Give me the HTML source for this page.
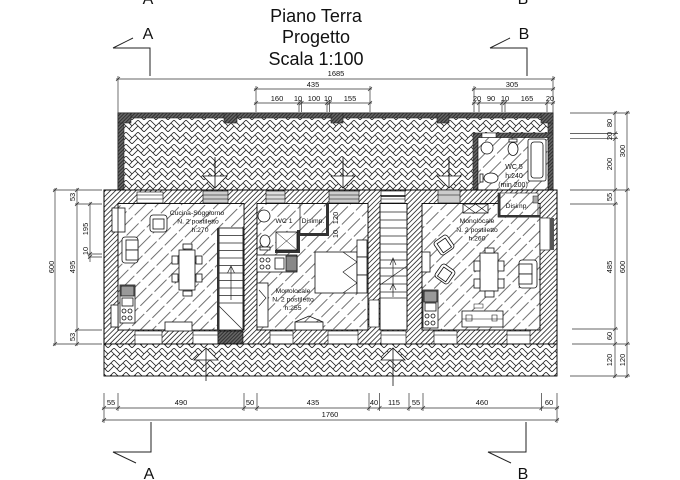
<!DOCTYPE html>
<html><head><meta charset="utf-8"><style>html,body{margin:0;padding:0;background:#fff}svg{display:block}text{font-family:"Liberation Sans",sans-serif;fill:#111}</style></head><body>
<svg width="680" height="480" viewBox="0 0 680 480" xmlns="http://www.w3.org/2000/svg">
<defs>
<pattern id="wh" width="3.6" height="10" patternUnits="userSpaceOnUse" patternTransform="rotate(45)"><rect width="3.6" height="10" fill="#fff"/><line x1="0.5" y1="0" x2="0.5" y2="10" stroke="#222" stroke-width="0.8"/></pattern>
<pattern id="rh" width="8.5" height="20" patternUnits="userSpaceOnUse" patternTransform="rotate(45)"><rect width="8.5" height="20" fill="#fff"/><line x1="1" y1="0" x2="1" y2="17" stroke="#333" stroke-width="0.7"/></pattern>
<pattern id="hb" width="12" height="12" patternUnits="userSpaceOnUse"><rect width="12" height="12" fill="#fff"/><path d="M0,6 L6,0 L12,6 M0,12 L6,6 L12,12 M3,3 L6,6 M9,9 L12,6" fill="none" stroke="#222" stroke-width="0.8"/></pattern>
<pattern id="dh" width="2.5" height="10" patternUnits="userSpaceOnUse" patternTransform="rotate(45)"><rect width="2.5" height="10" fill="#666"/><line x1="0.5" y1="0" x2="0.5" y2="10" stroke="#222" stroke-width="0.8"/></pattern>
</defs>

<!-- titles -->
<text x="316" y="22" font-size="18" text-anchor="middle">Piano Terra</text>
<text x="316" y="43" font-size="18" text-anchor="middle">Progetto</text>
<text x="316" y="65" font-size="18" text-anchor="middle">Scala 1:100</text>

<!-- cut-off section letters at top -->
<text x="148" y="4" font-size="16" text-anchor="middle">A</text>
<text x="523" y="4" font-size="16" text-anchor="middle">B</text>

<!-- section markers top -->
<g stroke="#222" stroke-width="1" fill="none">
<path d="M113,48 L133,38 M113,48 L150,48 L150,76"/>
<path d="M490,48 L510,38 M490,48 L527,48 L527,76"/>
<path d="M151,422 L151,452 L113,452 L136,463"/>
<path d="M526,422 L526,452 L488,452 L511,463"/>
</g>
<text x="148" y="39" font-size="16" text-anchor="middle">A</text>
<text x="524" y="39" font-size="16" text-anchor="middle">B</text>
<text x="149" y="479" font-size="16" text-anchor="middle">A</text>
<text x="523" y="479" font-size="16" text-anchor="middle">B</text>

<!-- top dimensions -->
<g stroke="#333" stroke-width="0.7" fill="none">
<line x1="116" y1="79" x2="555" y2="79"/>
<line x1="118" y1="76" x2="118" y2="113"/><line x1="553" y1="76" x2="553" y2="113"/>
<line x1="254" y1="89" x2="372" y2="89"/><line x1="472" y1="89" x2="555" y2="89"/>
<line x1="254" y1="103" x2="372" y2="103"/><line x1="472" y1="103" x2="555" y2="103"/>
<path d="M256,86 V112 M299,100 V112 M301.5,100 V112 M327,100 V112 M329.5,100 V112 M370,86 V112"/>
<path d="M474,86 V112 M479,100 V112 M502,100 V112 M505,100 V112 M547,100 V112"/>
<!-- ticks -->
<path d="M116,81 L120,77 M551,81 L555,77 M254,91 L258,87 M368,91 L372,87 M472,91 L476,87 M551,91 L555,87"/>
<path d="M254,105 L258,101 M297,105 L301,101 M299.5,105 L303.5,101 M325,105 L329,101 M327.5,105 L331.5,101 M368,105 L372,101"/>
<path d="M472,105 L476,101 M477,105 L481,101 M500,105 L504,101 M503,105 L507,101 M545,105 L549,101 M551,105 L555,101"/>
</g>
<g font-size="7.5" text-anchor="middle">
<text x="336" y="76">1685</text>
<text x="313" y="87">435</text>
<text x="512" y="87">305</text>
<text x="277" y="101">160</text><text x="298" y="101">10</text><text x="314" y="101">100</text><text x="328" y="101">10</text><text x="350" y="101">155</text>
<text x="477" y="101">20</text><text x="491" y="101">90</text><text x="505" y="101">10</text><text x="527" y="101">165</text><text x="550" y="101">20</text>
</g>

<!-- courtyard -->
<rect x="118" y="113" width="435" height="77" fill="url(#hb)" stroke="#000" stroke-width="0.8"/>
<g fill="url(#dh)" stroke="#222" stroke-width="0.6">
<rect x="118" y="113" width="435" height="5"/>
<rect x="118" y="113" width="6" height="77"/>
<rect x="548" y="113" width="5" height="20"/>
<rect x="118" y="113" width="13" height="10"/>
<rect x="224" y="113" width="13" height="10"/>
<rect x="331" y="113" width="12" height="10"/>
<rect x="437" y="113" width="12" height="10"/>
<rect x="541" y="113" width="12" height="10"/>
</g>

<!-- WC5 -->
<rect x="473" y="133" width="80" height="57" fill="url(#dh)" stroke="#222" stroke-width="0.6"/>
<rect x="478" y="137.5" width="70" height="53" fill="url(#rh)" stroke="#000" stroke-width="0.6"/>
<rect x="482" y="133" width="14" height="4.5" fill="#fff" stroke="#000" stroke-width="0.5"/>
<g fill="#fff" stroke="#111" stroke-width="0.8">
<circle cx="487" cy="148" r="6"/>
<ellipse cx="513" cy="149" rx="5" ry="6.5"/>
<rect x="509" y="139" width="8" height="3"/>
<rect x="528" y="139" width="18" height="42" rx="2"/>
<rect x="531" y="142" width="12" height="36" rx="3"/>
<ellipse cx="491" cy="178" rx="7" ry="5"/>
<rect x="480" y="174" width="3" height="8"/>
</g>
<g font-size="7" text-anchor="middle">
<text x="514" y="169">WC 5</text>
<text x="514" y="178">h:240</text>
<text x="513" y="187">(min 200)</text>
</g>

<!-- top arrows -->
<g stroke="#111" stroke-width="0.8" fill="#fff">
<line x1="215" y1="157" x2="215" y2="188"/><path d="M203,176 L227,176 L215,188 Z"/><line x1="215" y1="160" x2="215" y2="188"/>
<line x1="343" y1="157" x2="343" y2="188"/><path d="M331,176 L355,176 L343,188 Z"/><line x1="343" y1="160" x2="343" y2="188"/>
<line x1="449" y1="157" x2="449" y2="188"/><path d="M437,176 L461,176 L449,188 Z"/><line x1="449" y1="160" x2="449" y2="188"/>
</g>

<!-- main building -->
<rect x="104" y="190" width="453" height="154" fill="url(#wh)" stroke="#000" stroke-width="1"/>
<rect x="118" y="203.5" width="126" height="126.5" fill="url(#rh)" stroke="#000" stroke-width="0.9"/>
<rect x="257" y="203.5" width="111" height="126.5" fill="url(#rh)" stroke="#000" stroke-width="0.9"/>
<rect x="380" y="203.5" width="27" height="126.5" fill="#fff" stroke="#000" stroke-width="0.9"/>
<rect x="422" y="203.5" width="118" height="126.5" fill="url(#rh)" stroke="#000" stroke-width="0.9"/>
<rect x="369" y="300" width="10" height="27" fill="#fff" stroke="#000" stroke-width="0.6"/>

<!-- top wall windows -->
<g stroke="#000" stroke-width="0.6">
<rect x="137" y="192" width="26" height="11" fill="#fff"/><line x1="137" y1="195" x2="163" y2="195"/><line x1="137" y1="199" x2="163" y2="199"/>
<rect x="203" y="191" width="25" height="12" fill="#ccc"/><line x1="203" y1="195" x2="228" y2="195"/><line x1="203" y1="199" x2="228" y2="199"/>
<rect x="266" y="191" width="19" height="12" fill="#ddd"/><line x1="266" y1="195" x2="285" y2="195"/><line x1="266" y1="199" x2="285" y2="199"/>
<rect x="329" y="191" width="30" height="12" fill="#ccc"/><line x1="329" y1="195" x2="359" y2="195"/><line x1="329" y1="199" x2="359" y2="199"/>
<rect x="381" y="191" width="24" height="12" fill="#fff"/><line x1="381" y1="196" x2="405" y2="196" stroke-width="1.5"/><line x1="381" y1="199" x2="405" y2="199"/>
<rect x="438" y="190" width="22" height="13" fill="#ccc"/><line x1="438" y1="195" x2="460" y2="195"/>
</g>
<!-- bottom wall windows -->
<g stroke="#000" stroke-width="0.6">
<rect x="135" y="331" width="27" height="13" fill="#fff"/><line x1="135" y1="335" x2="162" y2="335"/>
<rect x="193" y="331" width="25" height="13" fill="#fff"/><line x1="193" y1="335" x2="218" y2="335"/>
<rect x="218" y="331" width="25" height="13" fill="url(#dh)"/>
<rect x="270" y="331" width="23" height="13" fill="#fff"/><line x1="270" y1="335" x2="293" y2="335"/>
<rect x="328" y="331" width="30" height="13" fill="#fff"/><line x1="328" y1="335" x2="358" y2="335"/>
<rect x="381" y="331" width="25" height="13" fill="#fff"/><line x1="381" y1="335" x2="406" y2="335"/>
<rect x="434" y="331" width="23" height="13" fill="#fff"/><line x1="434" y1="335" x2="457" y2="335"/>
<rect x="507" y="331" width="23" height="13" fill="#fff"/><line x1="507" y1="335" x2="530" y2="335"/>
</g>
<!-- right wall window -->
<rect x="540" y="218" width="10" height="32" fill="#fff" stroke="#000" stroke-width="0.6"/>
<rect x="550" y="218" width="4" height="32" fill="#555"/>

<!-- left stair -->
<rect x="219" y="228" width="24" height="102" fill="#fff" stroke="#000" stroke-width="0.8"/>
<rect x="217" y="228" width="2.5" height="102" fill="#333"/>
<g stroke="#222" stroke-width="0.7">
<path d="M219,235.5 H243 M219,243 H243 M219,250.5 H243 M219,258 H243 M219,265.5 H243 M219,273 H243 M219,280.5 H243 M219,288 H243 M219,295.5 H243 M219,303 H243"/>
<line x1="219" y1="306" x2="243" y2="330"/>
<line x1="231" y1="300" x2="231" y2="266"/>
<path d="M227.5,273 L231,266 L234.5,273" fill="none"/>
</g>

<!-- right stair -->
<g stroke="#222" stroke-width="0.7" fill="none">
<path d="M380,212 H407 M380,220 H407 M380,228 H407 M380,236 H407 M380,244 H407 M380,252 H407 M380,260 H407 M380,268 H407 M380,276 H407 M380,284 H407 M380,292 H407 M380,298 H407"/>
<line x1="380" y1="285" x2="407" y2="266"/>
<line x1="393" y1="258" x2="393" y2="297"/>
<path d="M390,265 L393,258 L396,265 M390,290 L393,284 L396,290"/>
</g>

<!-- left room furniture -->
<g fill="#fff" stroke="#111" stroke-width="0.8">
<rect x="112" y="208" width="13" height="24"/><line x1="118" y1="208" x2="118" y2="232"/>
<rect x="150" y="215" width="17" height="17" rx="3"/><rect x="153" y="219" width="11" height="10"/>
<rect x="122" y="237" width="16" height="26" rx="3"/><rect x="126" y="240" width="12" height="10"/><rect x="126" y="250" width="12" height="10"/>
<rect x="179" y="250" width="16" height="40"/>
<rect x="172" y="256" width="6" height="8"/><rect x="172" y="274" width="6" height="8"/>
<rect x="196" y="256" width="6" height="8"/><rect x="196" y="274" width="6" height="8"/>
<rect x="183" y="244" width="9" height="5"/><rect x="183" y="291" width="9" height="5"/>
<rect x="120" y="285" width="15" height="38"/>
<rect x="121" y="286" width="13" height="10" fill="#999"/>
<rect x="122" y="298" width="11" height="8"/>
<circle cx="124" cy="311" r="2"/><circle cx="130" cy="311" r="2"/><circle cx="124" cy="318" r="2"/><circle cx="130" cy="318" r="2"/>
<rect x="111" y="305" width="7" height="22"/>
<rect x="165" y="322" width="27" height="9"/>
</g>
<g font-size="6.8" text-anchor="middle">
<text x="197" y="215">Cucina-Soggiorno</text>
<text x="198" y="223.5">N. 2 postiletto</text>
<text x="200" y="232">h:270</text>
</g>

<!-- middle room details -->
<g fill="#333">
<rect x="297" y="230" width="3" height="23"/>
<rect x="275" y="250" width="25" height="3"/>
<rect x="300" y="233" width="29" height="3"/>
<rect x="326" y="203.5" width="3" height="32"/>
</g>
<line x1="300" y1="203.5" x2="300" y2="233" stroke="#111" stroke-width="0.7"/>
<g fill="#fff" stroke="#111" stroke-width="0.8">
<circle cx="264" cy="216" r="6"/>
<ellipse cx="265" cy="241" rx="5" ry="6"/><rect x="260" y="247" width="10" height="3"/>
<rect x="276" y="232" width="21" height="18"/>
<path d="M276,232 L297,250 M297,232 L276,250" fill="none" stroke-width="0.5"/>
<rect x="257" y="255" width="40" height="17"/>
<circle cx="262" cy="260" r="2"/><circle cx="268" cy="260" r="2"/><circle cx="262" cy="267" r="2"/><circle cx="268" cy="267" r="2"/>
<rect x="275" y="258" width="9" height="11"/>
<rect x="286" y="256" width="11" height="15" fill="#888"/>
<rect x="315" y="252" width="42" height="41"/>
<path d="M343,252 L357,262 L343,272 L357,283 L343,293" fill="none" stroke-width="0.6"/>
<rect x="357" y="240" width="10" height="17"/><rect x="357" y="257" width="10" height="18"/><rect x="357" y="275" width="10" height="18"/>
<rect x="257" y="283" width="11" height="44"/>
<path d="M259,290 L266,298 L259,306" fill="none" stroke-width="0.6"/>
<rect x="295" y="322" width="28" height="8"/>
<path d="M295,322 L309,316 L323,322" fill="none"/>
</g>
<g font-size="6.8" text-anchor="middle">
<text x="284" y="223">WC 1</text>
<text x="313" y="223">Disimp.</text>
<text x="293" y="293">Monolocale</text>
<text x="293" y="301.5">N. 2 postiletto</text>
<text x="293" y="310">h:255</text>
</g>
<text transform="translate(338,218) rotate(-90)" font-size="7.5" text-anchor="middle">120</text>
<text transform="translate(338,234) rotate(-90)" font-size="7.5" text-anchor="middle">10</text>

<!-- right room details -->
<rect x="498" y="193" width="40" height="24" fill="url(#rh)" stroke="#111" stroke-width="0.6"/>
<rect x="498" y="193" width="2.5" height="24" fill="#333"/>
<rect x="498" y="215" width="42" height="2.5" fill="#333"/>
<rect x="533" y="196" width="5" height="7" fill="#aaa" stroke="#111" stroke-width="0.5"/>
<text x="517" y="208" font-size="6.8" text-anchor="middle">Disimp.</text>
<g fill="#fff" stroke="#111" stroke-width="0.8">
<rect x="463" y="204" width="25" height="9"/>
<path d="M463,204 L475.5,213 M463,213 L475.5,204 M475.5,204 L488,213 M475.5,213 L488,204" fill="none" stroke-width="0.6"/>
<g transform="translate(444,245) rotate(-35)"><rect x="-8" y="-8" width="16" height="16" rx="3"/><rect x="-5" y="-5" width="10" height="11"/></g>
<g transform="translate(445,274) rotate(35)"><rect x="-8" y="-8" width="16" height="16" rx="3"/><rect x="-5" y="-5" width="10" height="11"/></g>
<rect x="422" y="252" width="8" height="20"/>
<rect x="480" y="253" width="18" height="38"/>
<rect x="474" y="261" width="6" height="10"/><rect x="474" y="279" width="6" height="9"/>
<rect x="498" y="261" width="6" height="10"/><rect x="498" y="279" width="6" height="9"/>
<rect x="485" y="248" width="9" height="5"/><rect x="485" y="291" width="9" height="6"/>
<rect x="519" y="260" width="18" height="28" rx="3"/><rect x="519" y="264" width="13" height="10"/><rect x="519" y="274" width="13" height="10"/>
<rect x="423" y="290" width="15" height="38"/>
<rect x="424" y="291" width="13" height="11" fill="#999"/>
<rect x="425" y="303" width="11" height="8"/>
<circle cx="427" cy="316" r="2"/><circle cx="433" cy="316" r="2"/><circle cx="427" cy="323" r="2"/><circle cx="433" cy="323" r="2"/>
<rect x="462" y="311" width="41" height="16"/>
<path d="M466,315 h6 v6 h-6 z M492,315 h5 v6 h-5 z M462,319 H503" fill="none" stroke-width="0.6"/>
<rect x="474" y="304" width="9" height="4" stroke-width="0.5"/>
</g>
<g font-size="6.8" text-anchor="middle">
<text x="477" y="223">Monolocale</text>
<text x="477" y="232">N. 2 postiletto</text>
<text x="477" y="240.5">h:260</text>
</g>

<!-- bottom strip -->
<rect x="104" y="344" width="453" height="32" fill="url(#hb)" stroke="#000" stroke-width="0.9"/>

<!-- bottom arrows -->
<g stroke="#111" stroke-width="0.8" fill="#fff">
<path d="M206,348 L194,360 L218,360 Z"/><line x1="206" y1="348" x2="206" y2="381"/>
<path d="M393,348 L381,360 L405,360 Z"/><line x1="393" y1="348" x2="393" y2="386"/>
</g>

<!-- left dimensions -->
<g stroke="#333" stroke-width="0.7" fill="none">
<line x1="55" y1="188" x2="55" y2="346"/>
<line x1="77" y1="188" x2="77" y2="346"/>
<line x1="90" y1="202" x2="90" y2="262"/>
<path d="M53,190 H102 M53,344 H102 M75,204 H102 M75,330 H102 M88,254 H102 M88,257 H102"/>
<path d="M53,192 L57,188 M53,346 L57,342 M75,192 L79,188 M75,206 L79,202 M75,332 L79,328 M75,346 L79,342 M88,206 L92,202 M88,256 L92,252 M88,259 L92,255"/>
</g>
<g font-size="7.5" text-anchor="middle">
<text transform="translate(54,267) rotate(-90)">600</text>
<text transform="translate(75,197) rotate(-90)">53</text>
<text transform="translate(75,267) rotate(-90)">495</text>
<text transform="translate(75,337) rotate(-90)">53</text>
<text transform="translate(88,229) rotate(-90)">195</text>
<text transform="translate(88,251) rotate(-90)">10</text>
</g>

<!-- right dimensions -->
<g stroke="#333" stroke-width="0.7" fill="none">
<line x1="615" y1="111" x2="615" y2="378"/>
<line x1="627" y1="111" x2="627" y2="378"/>
<path d="M570,113 H630 M570,133.6 H618 M570,138.7 H618 M570,190 H630 M570,204 H618 M572,329 H618 M572,344 H630 M570,376 H630"/>
<path d="M613,115 L617,111 M613,135.6 L617,131.6 M613,140.7 L617,136.7 M613,192 L617,188 M613,206 L617,202 M613,331 L617,327 M613,346 L617,342 M613,378 L617,374"/>
<path d="M625,115 L629,111 M625,192 L629,188 M625,346 L629,342 M625,378 L629,374"/>
</g>
<g font-size="7.5" text-anchor="middle">
<text transform="translate(612,123) rotate(-90)">80</text>
<text transform="translate(612,136) rotate(-90)">20</text>
<text transform="translate(612,164) rotate(-90)">200</text>
<text transform="translate(612,197) rotate(-90)">55</text>
<text transform="translate(612,267) rotate(-90)">485</text>
<text transform="translate(612,336) rotate(-90)">60</text>
<text transform="translate(612,360) rotate(-90)">120</text>
<text transform="translate(625,151) rotate(-90)">300</text>
<text transform="translate(625,267) rotate(-90)">600</text>
<text transform="translate(625,360) rotate(-90)">120</text>
</g>

<!-- bottom dimensions -->
<g stroke="#333" stroke-width="0.7" fill="none">
<line x1="102" y1="408" x2="559" y2="408"/>
<line x1="102" y1="420" x2="559" y2="420"/>
<path d="M104,393 V423 M118,393 V411 M244,393 V411 M257,393 V411 M369,393 V411 M379.5,393 V411 M409,393 V411 M423,393 V411 M541.5,393 V411 M557,393 V423"/>
<path d="M102,410 L106,406 M116,410 L120,406 M242,410 L246,406 M255,410 L259,406 M367,410 L371,406 M377.5,410 L381.5,406 M407,410 L411,406 M421,410 L425,406 M539.5,410 L543.5,406 M555,410 L559,406"/>
<path d="M102,422 L106,418 M555,422 L559,418"/>
</g>
<g font-size="7.5" text-anchor="middle">
<text x="111" y="405">55</text><text x="181" y="405">490</text><text x="250" y="405">50</text><text x="313" y="405">435</text><text x="374" y="405">40</text><text x="394" y="405">115</text><text x="416" y="405">55</text><text x="482" y="405">460</text><text x="549" y="405">60</text>
<text x="330" y="417">1760</text>
</g>
</svg>
</body></html>
